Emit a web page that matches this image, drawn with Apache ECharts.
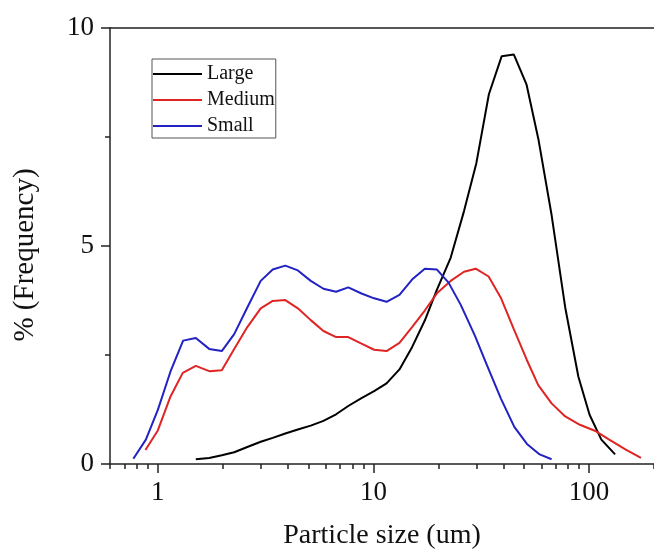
<!DOCTYPE html>
<html>
<head>
<meta charset="utf-8">
<script src="https://cdn.jsdelivr.net/npm/echarts@6/dist/echarts.min.js"></script>
<style>
html,body{margin:0;padding:0;background:#fff;}
#chart{width:654px;height:555px;}
</style>
</head>
<body>
<div id="chart"></div>
<script>
// Particle size (um) and % frequency for each sample
const largeX  = [1.5, 1.73, 1.98, 2.26, 2.6, 3.0, 3.41, 3.9, 4.46, 5.12, 5.86, 6.71, 7.64, 8.8, 10.07, 11.5, 13.2, 15.1, 17.3, 19.7, 22.8, 26.3, 30.0, 34.3, 39.3, 44.8, 51.3, 58.2, 67, 77.5, 89.2, 100.5, 114, 132];
const largeY  = [0.11, 0.14, 0.20, 0.27, 0.39, 0.51, 0.60, 0.70, 0.79, 0.88, 0.99, 1.14, 1.33, 1.51, 1.67, 1.85, 2.17, 2.68, 3.29, 4.0, 4.73, 5.8, 6.9, 8.48, 9.35, 9.39, 8.70, 7.45, 5.71, 3.59, 2.0, 1.13, 0.56, 0.22];

const mediumX = [0.876, 1.0, 1.145, 1.305, 1.5, 1.73, 1.98, 2.26, 2.6, 3.0, 3.41, 3.9, 4.46, 5.12, 5.86, 6.71, 7.64, 8.8, 10.07, 11.5, 13.2, 15.1, 17.3, 19.8, 22.8, 26.3, 29.8, 34.2, 38.9, 44.7, 51.5, 58.1, 67, 77.5, 90.6, 107.7, 124, 148, 174];
const mediumY = [0.32, 0.77, 1.55, 2.09, 2.25, 2.13, 2.15, 2.64, 3.14, 3.57, 3.74, 3.76, 3.57, 3.30, 3.05, 2.91, 2.91, 2.76, 2.62, 2.59, 2.78, 3.14, 3.52, 3.93, 4.20, 4.41, 4.48, 4.30, 3.82, 3.10, 2.38, 1.81, 1.39, 1.09, 0.90, 0.75, 0.56, 0.33, 0.14];

const smallX  = [0.77, 0.88, 1.0, 1.15, 1.31, 1.5, 1.73, 1.98, 2.26, 2.6, 3.0, 3.41, 3.9, 4.46, 5.12, 5.86, 6.71, 7.64, 8.8, 10.07, 11.5, 13.2, 15.1, 17.3, 19.7, 22.3, 25.4, 29.5, 33.7, 39, 45, 51.5, 59, 67];
const smallY  = [0.12, 0.56, 1.24, 2.15, 2.83, 2.89, 2.64, 2.59, 2.98, 3.59, 4.2, 4.46, 4.55, 4.44, 4.2, 4.02, 3.95, 4.05, 3.91, 3.8, 3.72, 3.88, 4.23, 4.48, 4.46, 4.16, 3.65, 2.95, 2.25, 1.5, 0.85, 0.46, 0.22, 0.11];

const seriesNames = ['Large', 'Medium', 'Small'];
const xMajorTicks = [1, 10, 100];
const xMinorTicks = [0.6, 0.7, 0.8, 0.9, 1, 2, 3, 4, 5, 6, 7, 8, 9, 10, 20, 30, 40, 50, 60, 70, 80, 90, 100, 200];

const pairs = (xs, ys) => xs.map((x, i) => [x, ys[i]]);
const FONT = "'Liberation Serif', 'Times New Roman', serif";
const AXIS_COLOR = '#222';

const chart = echarts.init(document.getElementById('chart'), null, {renderer: 'canvas'});
const xBase = {type: 'log', logBase: 10, min: 0.6, max: 200, gridIndex: 0, splitLine: {show: false}, minorTick: {show: false}};
chart.setOption({
  backgroundColor: '#fff',
  animation: false,
  grid: {left: 110, top: 28, right: -4, bottom: 87, containLabel: false},
  legend: {
    orient: 'vertical', left: 152, top: 59,
    data: seriesNames,
    icon: 'rect', itemWidth: 49, itemHeight: 2, itemGap: 6, itemTextGap: 5,
    padding: [5, 1, 2, 1],
    borderColor: '#555', borderWidth: 1,
    textStyle: {fontFamily: FONT, fontSize: 20, color: '#111', lineHeight: 20}
  },
  xAxis: [
    Object.assign({}, xBase, {
      position: 'bottom',
      name: 'Particle size (um)', nameLocation: 'middle', nameGap: 58,
      nameTextStyle: {fontFamily: FONT, fontSize: 28, color: '#111'},
      axisLine: {show: true, lineStyle: {color: AXIS_COLOR, width: 1.5}},
      axisTick: {show: true, length: 5, customValues: xMinorTicks, lineStyle: {color: AXIS_COLOR, width: 1.5}},
      axisLabel: {show: true, customValues: xMajorTicks, margin: 15, fontFamily: FONT, fontSize: 27, color: '#111',
                  formatter: v => String(Math.round(v))}
    }),
    Object.assign({}, xBase, {
      position: 'bottom',
      axisLine: {show: false},
      axisTick: {show: true, length: 9, customValues: xMajorTicks, lineStyle: {color: AXIS_COLOR, width: 1.5}},
      axisLabel: {show: false}
    }),
    Object.assign({}, xBase, {
      position: 'top',
      axisLine: {show: true, lineStyle: {color: AXIS_COLOR, width: 1.5}},
      axisTick: {show: false},
      axisLabel: {show: false}
    })
  ],
  yAxis: {
    type: 'value', min: 0, max: 10, interval: 5,
    name: '% (Frequency)', nameLocation: 'middle', nameGap: 70,
    nameTextStyle: {fontFamily: FONT, fontSize: 29, color: '#111', padding: [0, 18, 0, 0]},
    splitLine: {show: false},
    axisLine: {show: true, lineStyle: {color: AXIS_COLOR, width: 1.5}},
    axisTick: {show: true, length: 9, lineStyle: {color: AXIS_COLOR, width: 1.5}},
    minorTick: {show: true, splitNumber: 2, length: 5, lineStyle: {color: AXIS_COLOR, width: 1.5}},
    axisLabel: {margin: 16, fontFamily: FONT, fontSize: 27, color: '#111'}
  },
  series: [
    {name: seriesNames[0], type: 'line', xAxisIndex: 0, showSymbol: false, data: pairs(largeX, largeY),
     lineStyle: {color: '#000', width: 2}, itemStyle: {color: '#000'}},
    {name: seriesNames[1], type: 'line', xAxisIndex: 0, showSymbol: false, data: pairs(mediumX, mediumY),
     lineStyle: {color: '#e02424', width: 2}, itemStyle: {color: '#e02424'}},
    {name: seriesNames[2], type: 'line', xAxisIndex: 0, showSymbol: false, data: pairs(smallX, smallY),
     lineStyle: {color: '#2222c4', width: 2}, itemStyle: {color: '#2222c4'}}
  ]
});
</script>
</body>
</html>
